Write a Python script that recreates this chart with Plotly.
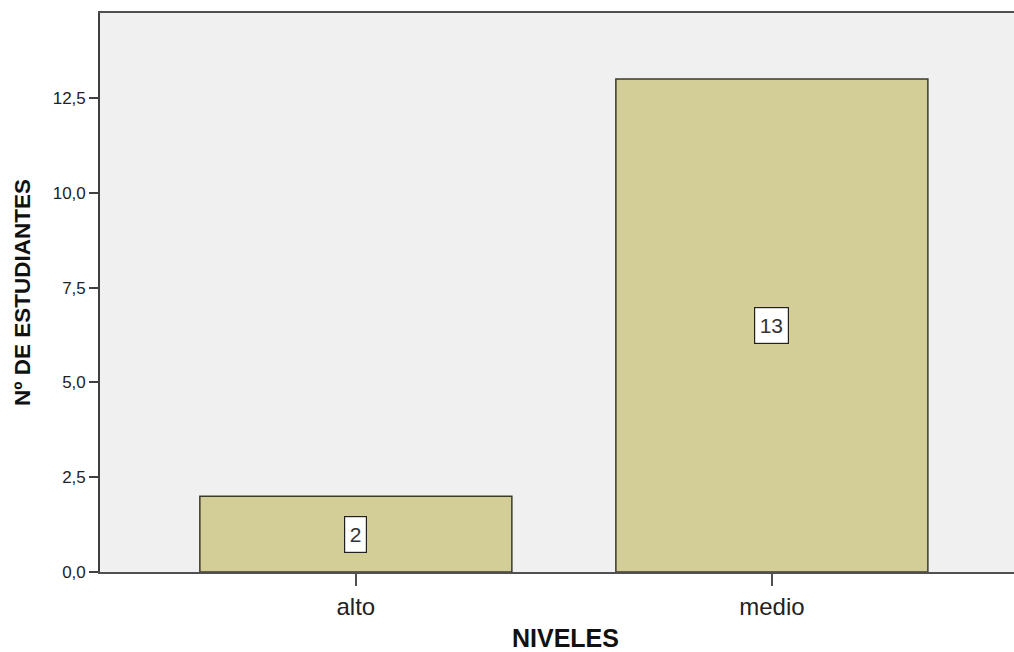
import plotly.graph_objects as go

categories = ["alto", "medio"]
counts = [2, 13]
y_ticks = [0, 2.5, 5, 7.5, 10, 12.5]
x_title = "NIVELES"
y_title = "Nº DE ESTUDIANTES"

FONT = "Liberation Sans, Arial, sans-serif"

fig = go.Figure()
fig.add_trace(go.Bar(
    x=categories, y=counts, width=0.75,
    marker=dict(color="#d3ce97", line=dict(color="#3b3b2c", width=1.5)),
    hoverinfo="skip",
))

for c, v in zip(categories, counts):
    fig.add_annotation(
        x=c, y=v / 2, text=str(v), showarrow=False,
        font=dict(family=FONT, size=21, color="#333333"),
        height=26, valign="middle",
        bgcolor="white", bordercolor="#222222", borderwidth=1.2, borderpad=4.5,
    )

# axis titles as annotations for exact placement
fig.add_annotation(
    xref="paper", yref="paper", x=0.509, y=0, yshift=-66,
    text="<b>" + x_title + "</b>", showarrow=False,
    xanchor="center", yanchor="middle",
    font=dict(family=FONT, size=25, color="#111111"),
)
fig.add_annotation(
    xref="paper", yref="paper", x=0, y=0.5, xshift=-77.5,
    text="<b>" + y_title + "</b>", showarrow=False, textangle=-90,
    xanchor="center", yanchor="middle",
    font=dict(family=FONT, size=22.5, color="#111111"),
)

fig.update_layout(
    width=1014, height=652,
    margin=dict(l=100, r=0, t=13, b=80, autoexpand=False),
    paper_bgcolor="white", plot_bgcolor="#f0f0f0",
    separators=",.",
    showlegend=False,
    font=dict(family=FONT, color="#222222"),
    xaxis=dict(
        range=[-0.615, 1.582], showline=True, linecolor="#505050", linewidth=1.6,
        mirror=True, ticks="outside", ticklen=12, tickcolor="#505050", tickwidth=1.5,
        tickfont=dict(size=24, color="#222222"), showgrid=False,
    ),
    yaxis=dict(
        range=[0, 14.74], tickvals=y_ticks, tickformat=".1f",
        showline=True, linecolor="#404040", linewidth=1.6,
        ticks="outside", ticklen=9, tickcolor="#404040", tickwidth=1.5,
        tickfont=dict(size=17, color="#222222"), showgrid=False, zeroline=False,
    ),
)

fig.write_html(
    "out.html",
    config={"displayModeBar": False},
    post_script="document.body.style.margin='0';document.body.style.overflow='hidden';",
)
